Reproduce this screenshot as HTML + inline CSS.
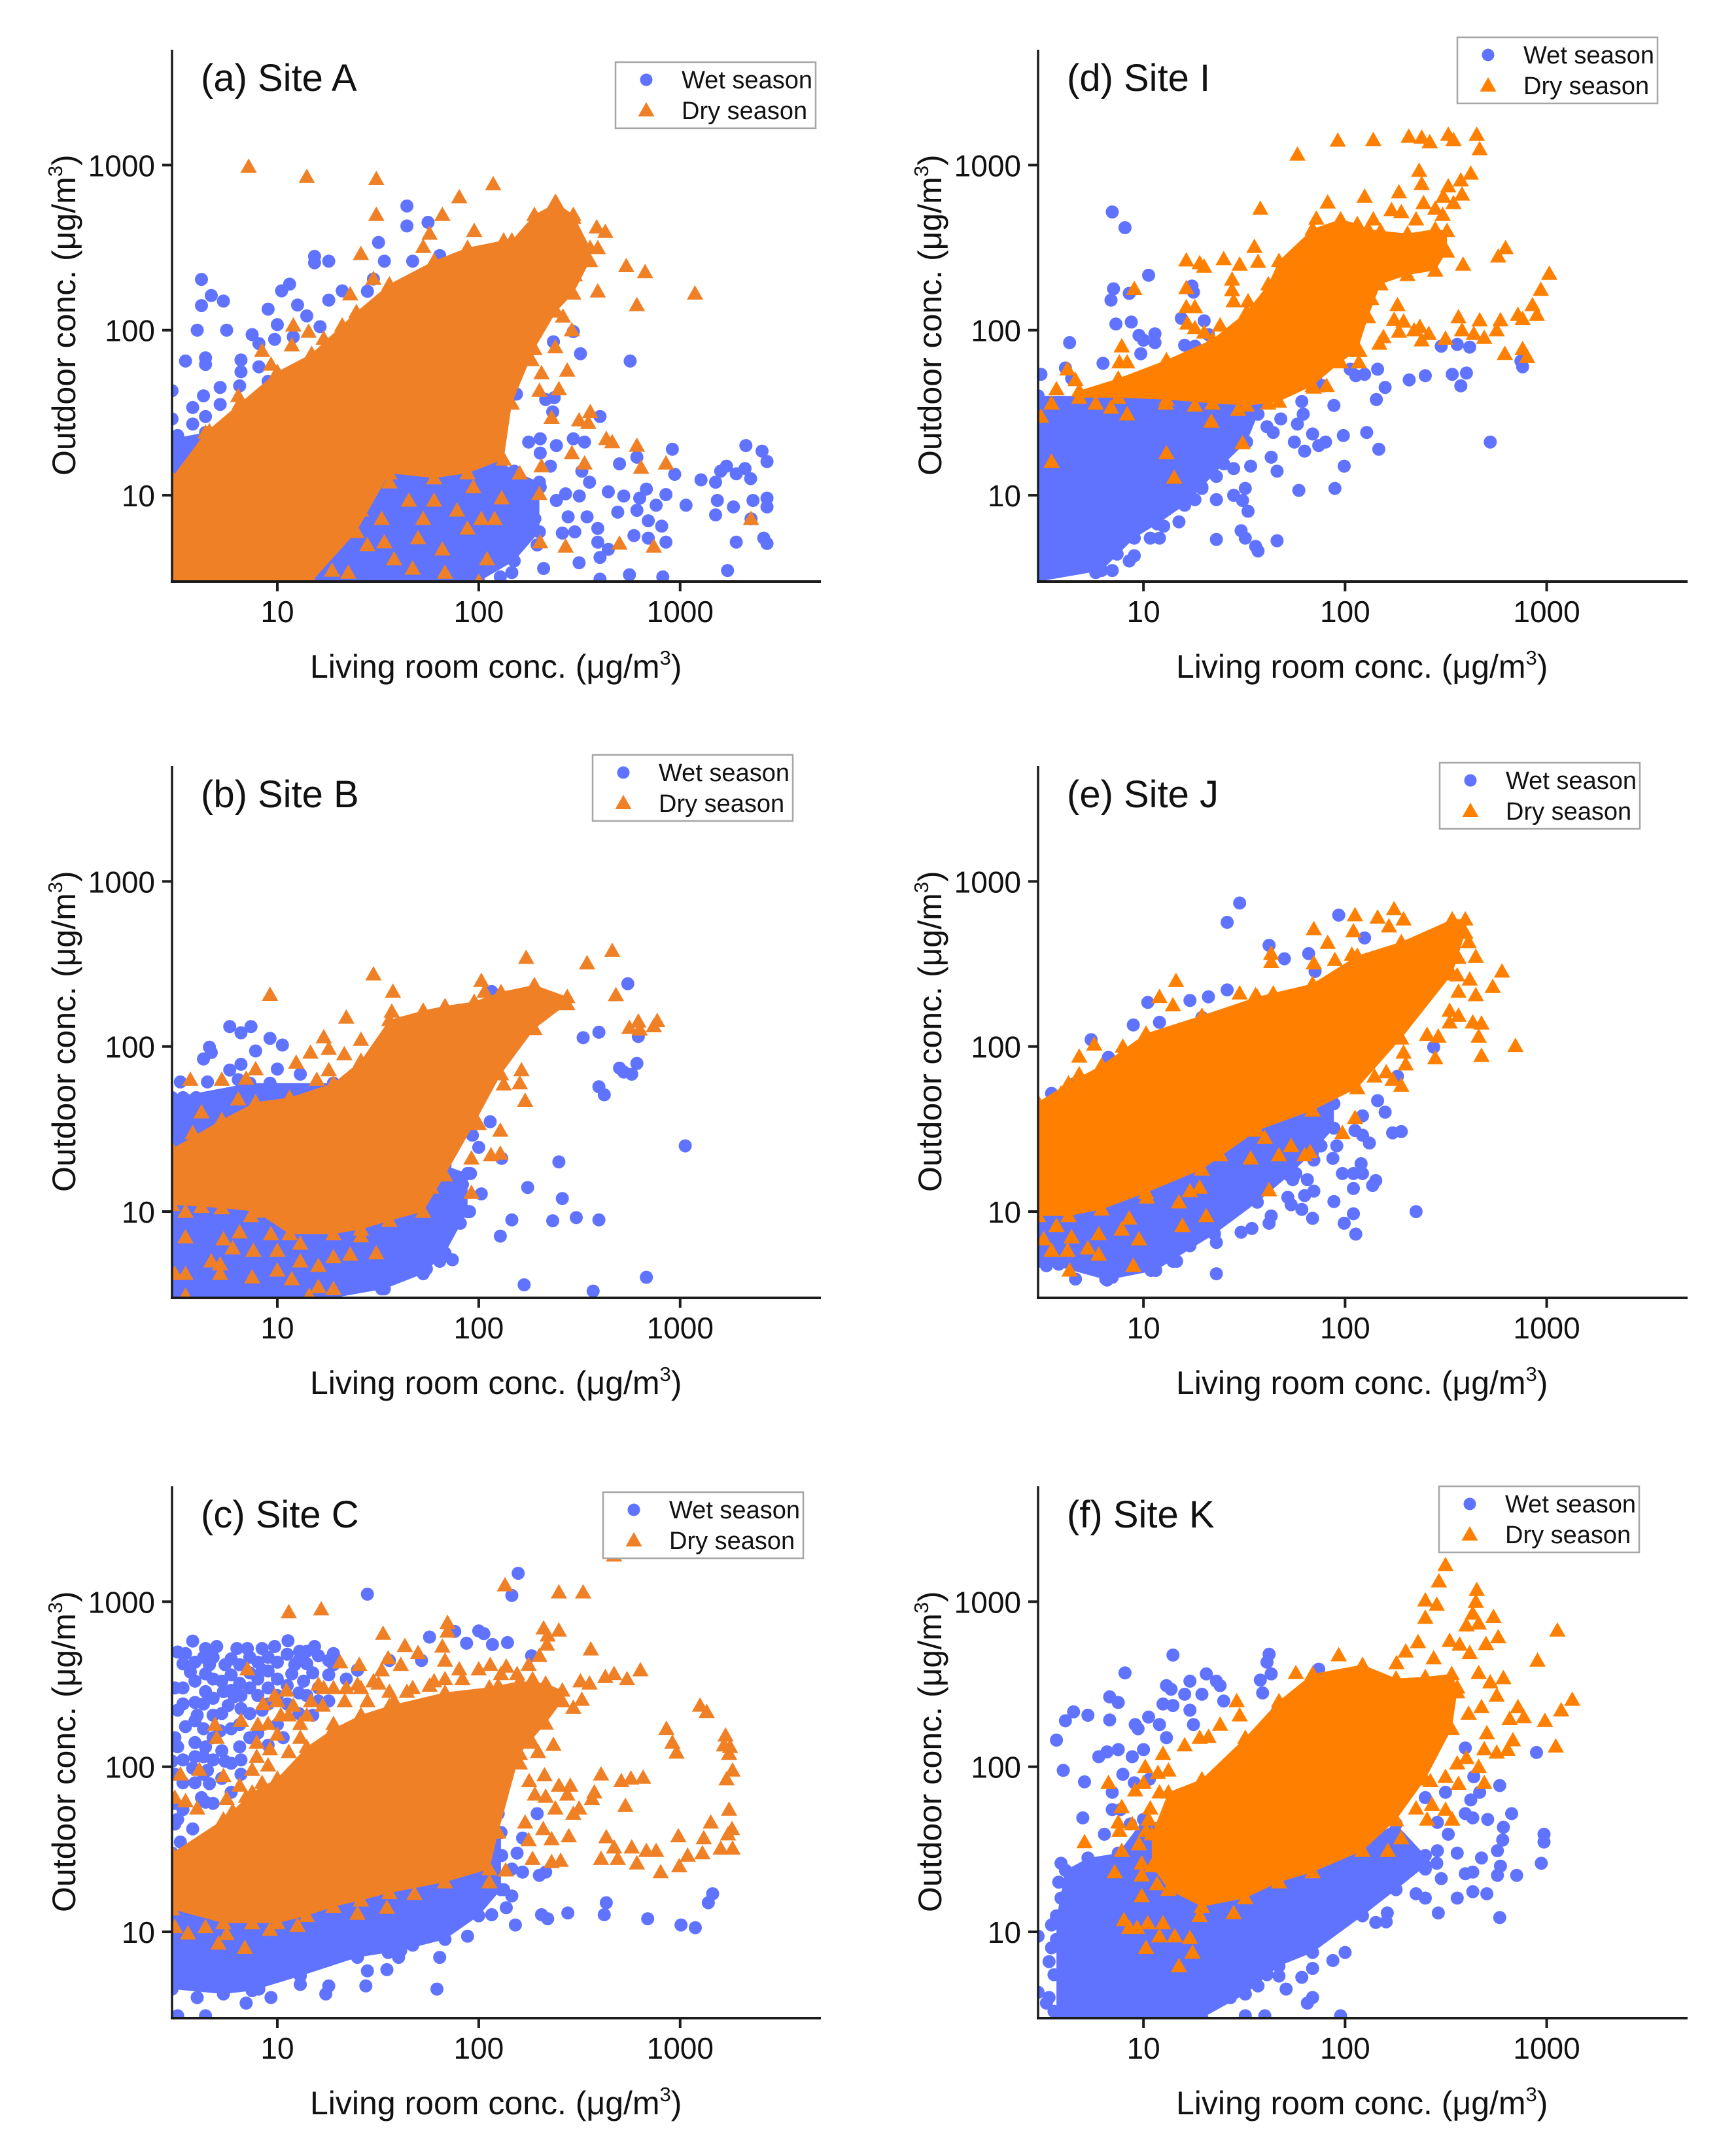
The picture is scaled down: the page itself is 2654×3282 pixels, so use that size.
<!DOCTYPE html>
<html lang="en">
<head>
<meta charset="utf-8">
<title>Outdoor vs living room concentration, six sites</title>
<style>
html,body{margin:0;padding:0;background:#fff;}
svg{display:block;font-family:"Liberation Sans",Arial,sans-serif;}
</style>
</head>
<body>
<svg id="figure" xmlns="http://www.w3.org/2000/svg" width="2654" height="3282" viewBox="0 0 2654 3282">
<rect x="0" y="0" width="2654" height="3282" fill="#ffffff"/>
</svg>
<script>
// ---- Axis ticks ----
const tickValues = [10, 100, 1000];
const tickLabels = ['10', '100', '1000'];
const axisMin = 3;
const axisMax = 5000;
const seriesNames = ['Wet season', 'Dry season'];

// ---- Site A ----
const siteAWetX = [
4.2,4.7,5.4,4.2,4,5.6,3.5,4.4,4.4,6.6,
6.6,7.5,8.1,9,10,9.7,10.5,11.5,12.6,14,
16.3,18,21,15.3,15.3,18,31.8,34,30,28,
47,44,44,56,64,565,320,295,235,154,
215,237,233,400,177,202,243,295,335,202,
227,325,355,500,610,915,940,2120,2550,2700,
1700,2100,1900,1590,2240,1500,1270,2700,2300,2700,
1530,1500,1840,1070,2250,2600,2700,1900,1720,820,
560,400,315,400,440,390,590,695,850,810,
440,525,630,680,850,760,610,695,490,390,
300,260,278,345,243,316,270,202,190,195,
210,146,128,165,152,128,142,3.8,3.8,4.4,
3.2,4.3,5.2,5.2,6.5,3,3,8.1,9,12];
const siteAWetY = [
203,162,150,141,100,100,65,68,62,66,
56,94,83,134,108,88,173,190,142,122,
105,152,173,280,256,262,340,262,204,172,
262,565,428,450,283,65,72,98,85,41,
38,39,32,30,21,22,20,22,21,18,
15,14,12,15.5,17,19,13.4,20,18.5,16,
15,14.5,13.5,14,12.6,12,12.4,9.6,9.3,8.5,
9.3,7.6,8.5,8.7,7.2,5.5,5.1,5.2,3.5,3.2,
3.3,3.1,3.9,4.2,4.7,5.2,5.7,5.5,5.2,6.5,
10.5,9.9,9.6,10.9,10.1,8.7,8.1,7,7.9,6.3,
6,5.9,7.4,7.4,9.3,9.9,10.2,11.2,7.2,5,
3.6,3.4,3.2,8.7,6.3,4.9,8.7,34,27,30,
23,40,45,35.5,46,43,29,60,49,91];
const siteADryX = [
7.2,14,31,118,80,31,66,95,57,53,
26,30,23,12,14.3,17,21,8.4,11.8,9.3,
6.4,4.6,240,295,385,425,390,540,670,1185,
390,610,300,285,262,290,240,177,183,205,
275,200,250,230,315,358,350,430,460,610,
290,335,850,640,205,160,2250,200,130,740,
500,270,202,110,120,22,28,33,38,47,
53,66,68,78,88,100,103,45,60,26,
34,18.7,22.5,50,36,94];
const siteADryY = [
980,850,825,767,640,500,500,400,385,320,
290,205,165,107,98,89,107,75,81,62,
40,24.5,600,480,420,395,315,245,225,167,
172,142,215,172,121,100,79,82,66,55,
57,43,44,29.5,28.5,32,27.5,22,21,20,
18,15.6,15.6,14.7,15,13.6,7.2,10.2,9.6,4.9,
5.1,4.9,5.2,4.1,7.2,6.3,5,7.2,4.1,3.6,
7.2,4.7,3.4,8.1,6.3,3,7.2,9.3,9.3,8.1,
5.2,3.5,3.4,5.5,12,11.2];
const siteAWetBandX = [3,4.4,10,30,60,100,150,200];
const siteAWetBandLow = [3,3,3,3,3,3,4,6];
const siteAWetBandHigh = [22,24,30,30,20,20,14,12];
const siteADryBandX = [3,4.4,6.5,10,14.8,24.7,36,60,88,133,146,189,243,295,357];
const siteADryBandLow = [3,3,3,3,3,6,13.6,12.7,13.6,16.5,36,77,130,167,263];
const siteADryBandHigh = [12.8,24,36,56,72,129,190,263,316,350,350,500,590,500,316];

// ---- Site B ----
const siteBWetX = [
5.8,6.6,7.4,9.2,10.6,7.8,4.6,4.7,4.3,6.6,
5.8,10,3.3,4.5,6.4,9.2,13,3.95,3.4,116,
550,330,395,620,500,525,610,575,395,420,
114,93,100,130,250,1060,175,260,103,90,
81,146,233,305,395,128,74,64,55,60,
43,33,168,370,680,68,58,68,48,43,
36,25,30,28,75,83,91,68,64];
const siteBWetY = [
132,121,132,112,102,94,99,92,84,78,
72,73,61,61,63,60,68,49,49,215,
240,113,122,115,74,70,79,68,57,51,
35,29,24.5,21,20,25,14,12,12.8,10,
8.5,8.9,8.8,9.2,8.9,7.1,5.1,5,4.5,6.3,
4.2,3.4,3.6,3.3,4,8.8,9.4,10,7,6,
4.4,3.9,4.1,4.7,15.6,14.6,17,16,13.8];
const siteBDryX = [
9.2,30,172,345,460,103,37.5,107,480,560,
620,770,630,740,22,37,17,26,18,21.5,
14.6,12.4,7.8,18,15.7,5.3,3.7,7,6.4,4.2,
3.8,163,170,160,133,100,128,115,128,92,
92,58,3.1,3.8,3.5,4.2,5,6,6.9,7.4,
5.4,6,3.5,6.5,7.6,4.7,5.2,5.2,3.1,3.5,
7.5,10,13,16,11.8,16,19,19,23,31,
26,3.5,14.4,9.3,10,13,9.3,4.2];
const siteBDryY = [
206,274,345,320,380,250,215,215,205,130,
142,143,127,133,150,163,114,110,97,90,
92,80,73,72,63,63,63,64,48,40,
30,72,47,60,59,34,31,22,22.5,21,
13,14,13.7,13,10,10.7,13.7,14.7,12,9.4,
6.8,6,7,7.5,5.8,5,4.8,4.2,4.2,4.2,
4,4.4,5,4.7,3.9,3.5,3.4,5.3,5.5,5.6,
7.1,3.1,3.1,7.3,5.8,6.4,10.7,16.6];
const siteBWetBandX = [3,7.3,19,34,53,68,88];
const siteBWetBandLow = [3,3,3,3.4,4.2,5.6,10];
const siteBWetBandHigh = [49,60,60,31,17,19,17];
const siteBDryBandX = [3,5.3,7.8,11.5,19,26,36,53,68,95,129,189,275];
const siteBDryBandLow = [11,10.5,10,7.3,7.3,7.8,8.8,10,16.6,34,68,128,181];
const siteBDryBandHigh = [24,36,46,49,60,82,145,165,176,187,214,236,200];

// ---- Site C ----
const siteCWetX = [
3.8,3.2,3.5,4.4,5,6.3,7.1,8.4,9.7,11.3,
15.3,19,12.9,4.6,5.5,3.7,4.4,6.5,8.4,12.2,
11.8,13.5,15,19,6.5,5.4,4.4,3.9,6.1,3.2,
4,3.5,4.8,5.7,3.9,3.2,3,4.4,5.2,6.5,
3.8,4.5,5.5,4.6,4.2,3.8,3.2,3.3,4.4,6.5,
10,8.4,10.7,15,18,25,28,157,146,76,
100,106,57,87,117,139,183,52,36,195,
125,165,155,130,146,165,200,215,133,146,
137,116,205,220,277,152,430,420,690,1010,
1190,1380,1450,88,64,62,64,47,35.5,40,
35,28,27.5,18,17.4,13,9.3,8.1,7,4,
3.2,4.4,
3.1,3.1,3.1,3.1,3.1,3.4,3.4,3.4,3.4,3.4,
3.4,3.9,3.9,3.9,3.9,3.9,4.3,4.3,4.3,4.3,
4.3,4.8,4.8,4.8,4.8,4.8,4.8,5.3,5.3,5.3,
5.3,5.9,5.9,5.9,5.9,5.9,5.9,6.6,6.6,6.6,
6.6,7.3,7.3,7.3,7.3,7.3,8,8,8,8,
9,9,9,9,9,10,10,10,11.2,11.2,
11.2,12.8,12.8,12.8,14,14,14,16,16,16,
18,18,22];
const siteCWetY = [
577,495,485,520,535,520,520,520,535,580,
535,485,500,415,415,375,365,415,385,415,
365,330,370,415,320,285,285,245,265,220,
205,175,205,235,140,132,108,132,165,180,
98,95,108,79,65,42,48,35,61,132,
180,220,150,205,250,385,1110,1485,1090,660,
665,640,610,560,550,565,470,440,440,52,
52,37,30,29,24,23,22,23,18,16.5,
14,12.7,12.7,12,13,11,15,12.7,12,11,
10.6,15,17,9.4,9.7,4.5,7,8.3,7.5,7,
5.9,5.8,4.7,4.7,4.2,4.8,4,4.5,3.7,4,
3.1,3.1,
150,90,60,45,300,300,240,110,80,55,
420,430,330,190,115,80,240,170,115,90,
460,460,340,260,150,110,60,330,210,125,
85,450,360,290,170,105,70,270,225,110,
90,460,370,300,210,150,430,340,270,160,
460,380,300,240,135,430,340,270,480,310,
240,440,280,210,500,420,270,470,300,250,
440,360,340];
const siteCDryX = [
470,135,250,330,11.4,16.5,70,70,210,250,
220,33.5,43,66,50,218,360,35.5,41,20.5,
25.5,7.1,68,80,114,137,177,200,635,545,
470,425,355,320,325,295,1255,1355,855,915,
960,1680,1650,1770,1750,1820,1700,655,570,510,
405,535,375,365,315,295,285,250,275,240,
215,212,178,190,235,185,197,160,155,1750,
1420,1810,1730,1310,980,1820,1590,1290,1090,990,
800,760,680,575,610,470,490,430,405,280,
230,255,230,185,209,177,170,3.3,3.1,3.5,
4,4.1,4.9,5,5.4,5.6,5.4,6.6,7.9,7.9,
9.2,9.7,8.5,10.4,6.5,8.4,13,16,11.1,14.7,
19,28,36,25,44,53,60,22,3.1,3.6,
4.4,5.1,5.6,6.9,9.2,12.6,25,35,48,113,
136,11.4,13,16.8,21.6,9,10,8,11.4,9,
7.5,7,6,17,19,26,31.8,38,47,57,
68,83,100,129,155,185,33,30,14,12,
10];
const siteCDryY = [
1910,1260,1140,1140,865,900,745,660,690,670,
625,640,540,535,490,550,515,455,415,430,
415,390,440,390,415,405,415,470,385,340,
365,350,320,330,255,228,235,215,170,140,
122,155,135,132,120,95,84,86,85,82,
90,58,70,64,56,52,77,77,68,56,
66,89,82,68,136,140,123,105,147,55,
46,42,39,37,38,32,32,30,29,25,
23,31,31,32.5,26,32.5,27.7,37.5,27.7,38,
36.5,27,26.5,27.7,42,36,46,90,65,62,
56,96,180,150,88,64,48,190,140,115,
128,270,240,205,77,80,150,315,290,250,
182,250,285,315,285,230,330,300,10.7,9.8,
10.7,8.5,9.7,8,10.3,10.9,12.9,14,17,20,
23.6,205,182,235,250,182,157,180,123,102,
96,66,54,300,300,300,320,250,300,310,
340,340,390,365,365,340,385,330,205,235,
250];
const siteCWetBandX = [3,5.4,7.5,13,25,41,68,100,129];
const siteCWetBandLow = [4.5,4.2,4.4,5.4,7,7.7,9,12.5,18];
const siteCWetBandHigh = [30,30,30,30,30,30,40,40,40];
const siteCDryBandX = [3,5.4,7.5,10,14,19,26,36,68,113,125,160,215,260];
const siteCDryBandLow = [13.7,11.3,11.3,11.3,12.5,14.2,15.5,17.2,20,24,40,120,183,250];
const siteCDryBandHigh = [30,48,70,85,132,170,206,234,282,303,310,330,320,290];

// ---- Site I ----
const siteIWetX = [
7,8.1,10.6,7.1,6.9,8.5,17.4,17.7,7.3,8.7,
15.4,20,9.5,10,11.4,11.4,4.3,4.1,6.3,3.1,
4.4,9.7,16,18,21,300,360,415,340,400,
375,250,208,760,745,158,145,125,113,106,
78,72,88,143,128,147,98,99,89,59,
525,61,62,58,56,63,74,80,69,48,
44,41,43,46,34,28,23,32,28,23,
31,33,18,30.5,32,23,36,37,46,15,
12.6,12,10.8,9,8.5,7.4,7,5.8,5.3,19.5];
const siteIWetY = [
520,418,215,178,152,167,185,170,109,112,
118,114,93,87,95,84,84,59,63,54,
51,72,81,80,94,80,82,79,54,55,
46,53,50,60,65,45,58,54,53,58,
46,49,35,38,24,19,23,15,11,10.7,
21,37,31,27,21,18.5,20,21,23.5,29,
24,26,17,14,15,14.5,13,11,10,9.4,
9.3,8,9.4,6.1,5.5,5.4,4.9,4.6,5.3,6.9,
6.5,5.5,5.5,4.3,4,4.4,3.5,3.4,4.4,11];
const siteIDryX = [
92,138,207,240,263,325,345,450,465,58,
233,240,420,375,325,380,185,125,82,38,
345,307,245,280,305,225,190,170,138,72,
625,575,385,1030,935,850,720,895,760,590,
565,465,490,435,365,380,315,260,235,220,
185,195,175,240,148,155,182,135,620,760,
800,118,117,16.3,19,20,25,30,35.5,37,
27.5,27.5,28,33,16.3,16.3,18,16.5,18,20,
24,9,7.8,8.3,7.6,4.2,4.6,3.7,3.5,3.1,
3.5,13,14.2,31,21.7,29.5,8.3,6.9,5.8,12.9,
18,70,81];
const siteIDryY = [
1410,1420,1490,1470,1380,1530,1420,1530,1250,1160,
925,770,890,810,745,665,685,645,595,545,
590,645,590,545,500,470,520,535,470,475,
315,280,250,220,176,142,124,124,117,115,
100,115,90,95,120,100,89,95,105,100,
98,113,116,87,83,91,142,155,72,77,
69,75,64,265,255,243,270,250,320,260,
203,175,150,150,180,138,138,110,103,97,
107,178,80,64,64,58,50,44,36,30,
16,18,12.8,20.7,28,33,31,34,36,36,
35,45,46];
const siteIWetBandX = [3,6.2,9,11.7,16,19.5,25,32.5,37];
const siteIWetBandLow = [3,3.5,5.5,6.7,8.7,11.2,15.5,21,31];
const siteIWetBandHigh = [40,40,40,40,40,40,40,38,36];
const siteIDryBandX = [4.8,7.5,13,22,32.5,41.6,47,69,95,115,130,150,204,280,320];
const siteIDryBandLow = [39,39,38,36,35,36,37,46,64,75,120,190,216,230,300];
const siteIDryBandHigh = [43,51,66,88,129,190,263,410,470,440,410,400,385,410,400];

// ---- Site J ----
const siteJWetX = [
30,26,93,125,42,50,66,71,26,21,
10.5,17,19.5,12,8.9,5.5,9.7,6.7,3.5,3,
4.6,275,182,145,158,122,172,190,112,122,
132,76,91,87,70,97,110,120,122,110,
142,137,57,55,65,70,63,52,54,61,
88,110,99,113,225,69,43,42,34.5,30.5,
28,23,17,23,14.6,14,11,10.9,7,6.5,
4.6,3.8,3.3,5.5,8.5];
const siteJWetY = [
740,565,625,455,410,340,365,285,220,200,
185,190,150,140,135,110,100,86,52,35,
60,99,66,47,40,38,30,30.5,31,29,
26,25,25,21,20.5,17,17,19.5,17,13.8,
15.4,14.4,17,15.6,15.6,13.3,12.5,12.2,11,10.3,
11.5,9.7,8.5,7.3,10,9.1,9.4,8.5,7.9,7.5,
10,6.5,6.2,4.2,5,5,5,4.4,4,3.9,
3.9,4.8,4.7,4.5,5];
const siteJDryX = [
175,195,112,145,165,110,70,82,43,43,
70,89,108,410,365,445,600,540,415,365,
445,360,330,365,330,430,475,460,290,255,
700,475,280,195,200,190,172,160,140,14.5,
12,14,30,36,44,5.7,4.8,7.9,4.8,3.9,
3.3,3.5,97,112,67,63,47,54,40,34,
24,42,19,17,15,20.5,15.6,8.5,9.5,8.9,
6,5.3,4.3,4.2,3.5,3.2,4.4,3.7,6,7.8,
10.4];
const siteJDryY = [
680,590,625,605,535,500,515,425,365,325,
320,335,360,430,345,350,285,230,255,215,
205,270,165,154,140,140,138,115,115,118,
101,88,85,92,78,58,63,70,66,250,
200,178,210,205,210,103,87,100,68,52,
43,34,30,37,23,22,22,25,28,21,
22,13.5,14,13.3,11.4,9.4,8.2,9.1,6.8,4.7,
5.5,6,4.4,5.8,5.8,6.8,7,8.2,7.3,7.8,
12.2];
const siteJWetBandX = [3,6.6,11.5,22.5,36.7,53,69,88];
const siteJWetBandLow = [5,3.85,4.4,7.3,11.4,16.6,22.9,32];
const siteJWetBandHigh = [40,60,80,100,80,60,50,45];
const siteJDryBandX = [3,4.25,6.2,10.3,19.5,36.7,69,115,190,340,395];
const siteJDryBandLow = [9.4,9.4,10.3,13,18,31,41,56,112,275,490];
const siteJDryBandHigh = [46,60,77,120,154,200,240,355,430,590,590];

// ---- Site K ----
const siteKWetX = [
14,8.1,42,41,43,74,38,13,13.7,17,
20.5,23,24,39,6.8,7.5,4.5,5.3,4.1,6.8,
3.7,4,5.1,5,3.9,16,19.5,25,12.5,14,
17,46,10.6,9.1,9.4,12,13,17.7,6,6.6,
7.5,8.8,10,7.9,9,10.7,7,7.7,8.6,6.4,
7,395,890,585,435,465,420,250,315,670,
610,510,395,430,325,287,970,970,605,570,
475,360,287,940,590,570,710,395,430,300,
285,430,505,360,250,225,290,585,142,162,
160,100,87,69,61,69,65,51,95,41,
47,37,32,40,32,27,32.5,250,3,3.4,
3,3.3,3.7,3.7,3.5,3.6,3.4,3.6,3.5,3.9,
3.8];
const siteKWetY = [
475,370,480,430,365,390,335,310,295,330,
365,330,310,280,265,245,215,205,190,192,
145,95,81,49,26,275,275,250,240,235,
220,215,200,180,170,180,150,180,115,123,
127,115,127,90,80,84,55,55,45,39,
70,130,122,77,87,70,63,65,70,52,
43,48,52,49,39,46,39,35,36,31,
28,30,31,26,25,22,22,22.5,23,21,
26,17.5,17,16,16,17,13,12.2,11.4,13,
11.5,7.5,6.7,6,5.3,4,3.7,4.5,3.1,5.5,
5.4,4.7,4.2,3.1,3.1,4,4.8,24,9.4,6.6,
4.3,3.7,9,12.5,8,5.5,4,3.3,11,16,
20];
const siteKDryX = [
315,292,250,285,450,445,250,430,545,400,
460,575,1130,230,330,370,200,500,180,275,
415,900,460,610,525,565,720,1340,1180,655,
770,980,475,410,505,680,1110,490,565,640,
400,460,360,315,365,490,265,270,225,315,
340,255,190,163,93,57,29,30,24,19,
21,16,12.5,10.2,13.3,11.8,6.7,10,9.1,12,
7.8,10.8,7.5,8.8,10.6,7.6,5.1,10.3,7.8,9.5,
7.2,9.8,9.8,8,8.5,9.3,10.5,12.5,12,14.3,
10.3,17.5,15,17,19,28,9.8,11.7];
const siteKDryY = [
1670,1330,1020,960,1180,1000,800,850,810,720,
740,610,670,570,580,550,500,555,425,455,
490,440,370,345,325,270,230,255,220,195,
200,190,230,210,160,145,133,128,122,127,
113,100,105,87,79,80,82,59,56,55,
48,48,37,31,475,370,250,205,180,150,
152,135,120,100,95,92,80,80,72,70,
57,56,46,45,48,41,35,41,31,34,
23,26,22,11.8,10.6,10.6,11.3,11.3,9.4,9.4,
8,7.5,6.2,9.2,12.5,13,16.5,19.5];
const siteKWetBandX = [3.7,4.1,5.3,7.5,10,19.5,32,47,69,122,179,250];
const siteKWetBandLow = [3,3,3,3,3,3,4.2,6.2,7.5,12.5,18,25];
const siteKWetBandHigh = [12,23.6,28,30,48,40,40,40,40,35,45,29];
const siteKDryBandX = [11,13.3,19.5,32,47,69,122,179,250,338,360];
const siteKDryBandLow = [25,18,14.2,16,20,23,31,47.6,84,170,283];
const siteKDryBandHigh = [39,70,84,150,250,365,415,343,350,365,303];

// ---- Panel assembly (layout kept apart from the values) ----
const panels = [
 {key:'site-a',title:'(a) Site A',x0:263,x1:1255,top:76,bottom:889,lx:941,ly:95,dry:'#EF8026',
  wx:siteAWetX,wy:siteAWetY,dx:siteADryX,dy:siteADryY,wbx:siteAWetBandX,wbl:siteAWetBandLow,wbh:siteAWetBandHigh,dbx:siteADryBandX,dbl:siteADryBandLow,dbh:siteADryBandHigh},
 {key:'site-b',title:'(b) Site B',x0:263,x1:1255,top:1171,bottom:1984,lx:906,ly:1154,dry:'#EF8026',
  wx:siteBWetX,wy:siteBWetY,dx:siteBDryX,dy:siteBDryY,wbx:siteBWetBandX,wbl:siteBWetBandLow,wbh:siteBWetBandHigh,dbx:siteBDryBandX,dbl:siteBDryBandLow,dbh:siteBDryBandHigh},
 {key:'site-c',title:'(c) Site C',x0:263,x1:1255,top:2272,bottom:3085,lx:922,ly:2281,dry:'#EF8026',
  wx:siteCWetX,wy:siteCWetY,dx:siteCDryX,dy:siteCDryY,wbx:siteCWetBandX,wbl:siteCWetBandLow,wbh:siteCWetBandHigh,dbx:siteCDryBandX,dbl:siteCDryBandLow,dbh:siteCDryBandHigh},
 {key:'site-i',title:'(d) Site I',x0:1587,x1:2580,top:76,bottom:889,lx:2228,ly:57,dry:'#FF8000',
  wx:siteIWetX,wy:siteIWetY,dx:siteIDryX,dy:siteIDryY,wbx:siteIWetBandX,wbl:siteIWetBandLow,wbh:siteIWetBandHigh,dbx:siteIDryBandX,dbl:siteIDryBandLow,dbh:siteIDryBandHigh},
 {key:'site-j',title:'(e) Site J',x0:1587,x1:2580,top:1171,bottom:1984,lx:2201,ly:1166,dry:'#FF8000',
  wx:siteJWetX,wy:siteJWetY,dx:siteJDryX,dy:siteJDryY,wbx:siteJWetBandX,wbl:siteJWetBandLow,wbh:siteJWetBandHigh,dbx:siteJDryBandX,dbl:siteJDryBandLow,dbh:siteJDryBandHigh},
 {key:'site-k',title:'(f) Site K',x0:1587,x1:2580,top:2272,bottom:3085,lx:2200,ly:2272,dry:'#FF8000',
  wx:siteKWetX,wy:siteKWetY,dx:siteKDryX,dy:siteKDryY,wbx:siteKWetBandX,wbl:siteKWetBandLow,wbh:siteKWetBandHigh,dbx:siteKDryBandX,dbl:siteKDryBandLow,dbh:siteKDryBandHigh}
];

const WET = '#5F73FF';
const AXIS = '#1c1c1c';
const NS = 'http://www.w3.org/2000/svg';
const root = document.getElementById('figure');

function make(tag, parent, attrs) {
  const el = document.createElementNS(NS, tag);
  for (const k in attrs) el.setAttribute(k, attrs[k]);
  parent.appendChild(el);
  return el;
}
function xScale(p, v) {
  const a = Math.log10(axisMin), b = Math.log10(axisMax);
  return p.x0 + (Math.log10(v) - a) / (b - a) * (p.x1 - p.x0);
}
function yScale(p, v) {
  const a = Math.log10(axisMin), b = Math.log10(axisMax);
  return p.bottom - (Math.log10(v) - a) / (b - a) * (p.bottom - p.top);
}
function circle(parent, cx, cy, r, fill) {
  return make('circle', parent, {cx: cx.toFixed(1), cy: cy.toFixed(1), r: r, fill: fill});
}
function triangle(parent, cx, cy, fill) {
  const pts = [[cx, cy - 12.5], [cx - 12.5, cy + 9.5], [cx + 12.5, cy + 9.5]];
  return make('polygon', parent, {points: pts.map(q => q[0].toFixed(1) + ',' + q[1].toFixed(1)).join(' '), fill: fill});
}
function bandPoints(p, xs, low, high) {
  const up = xs.map((v, i) => xScale(p, v).toFixed(1) + ',' + yScale(p, high[i]).toFixed(1));
  const dn = xs.map((v, i) => xScale(p, v).toFixed(1) + ',' + yScale(p, low[i]).toFixed(1)).reverse();
  return up.concat(dn).join(' ');
}

panels.forEach(function (p, idx) {
  const g = make('g', root, {});
  
  

  const clip = make('clipPath', g, {id: 'clip-' + idx});
  make('rect', clip, {x: p.x0, y: p.top - 40, width: p.x1 - p.x0 + 10, height: p.bottom - p.top + 40});

  const plot = make('g', g, {'clip-path': 'url(#clip-' + idx + ')'});
  
  

  // wet season: dense cloud, its edge marks, then single points
  const wetBand = make('polygon', plot, {points: bandPoints(p, p.wbx, p.wbl, p.wbh), fill: WET});
  
  
  p.wbx.forEach(function (v, i) {
    const a = circle(plot, xScale(p, v), yScale(p, p.wbh[i]), 10, WET);
    
    
    const b = circle(plot, xScale(p, v), yScale(p, p.wbl[i]), 10, WET);
    
    
  });
  const wn = Math.min(p.wx.length, p.wy.length);
  for (let i = 0; i < wn; i++) {
    const c = circle(plot, xScale(p, p.wx[i]), yScale(p, p.wy[i]), 10, WET);
    
    
  }

  // dry season: dense cloud, its edge marks, then single points
  const dryBand = make('polygon', plot, {points: bandPoints(p, p.dbx, p.dbl, p.dbh), fill: p.dry});
  
  
  p.dbx.forEach(function (v, i) {
    const a = triangle(plot, xScale(p, v), yScale(p, p.dbh[i]), p.dry);
    
    
    const b = triangle(plot, xScale(p, v), yScale(p, p.dbl[i]), p.dry);
    
    
  });
  const dn = Math.min(p.dx.length, p.dy.length);
  for (let i = 0; i < dn; i++) {
    const t = triangle(plot, xScale(p, p.dx[i]), yScale(p, p.dy[i]), p.dry);
    
    
  }

  // axes
  const yAxis = make('line', g, {x1: p.x0, x2: p.x0, y1: p.top, y2: p.bottom, stroke: AXIS, 'stroke-width': 3.5});
  
  
  const xAxis = make('line', g, {x1: p.x0 - 2, x2: p.x1, y1: p.bottom, y2: p.bottom, stroke: AXIS, 'stroke-width': 4});
  
  

  tickValues.forEach(function (v, i) {
    const tx = xScale(p, v), ty = yScale(p, v);
    const xt = make('line', g, {x1: tx, x2: tx, y1: p.bottom, y2: p.bottom + 15, stroke: AXIS, 'stroke-width': 4});
    
    
    const xl = make('text', g, {x: tx, y: p.bottom + 62, 'text-anchor': 'middle', 'font-size': 46, fill: '#111'});
    xl.textContent = tickLabels[i];
    
    
    const yt = make('line', g, {x1: p.x0 - 15, x2: p.x0, y1: ty, y2: ty, stroke: AXIS, 'stroke-width': 4});
    
    
    const yl = make('text', g, {x: p.x0 - 26, y: ty + 17, 'text-anchor': 'end', 'font-size': 46, fill: '#111'});
    yl.textContent = tickLabels[i];
    
    
  });

  // axis titles
  const xt = make('text', g, {x: p.x0 + 211, y: p.bottom + 147, 'font-size': 50, fill: '#111'});
  
  
  make('tspan', xt, {}).textContent = 'Living room conc. (\u03BCg/m';
  make('tspan', xt, {dy: -20, 'font-size': 31}).textContent = '3';
  make('tspan', xt, {dy: 20}).textContent = ')';

  const yBase = p.x0 - 148, yStart = p.bottom - 162;
  const yTitle = make('text', g, {x: yBase, y: yStart, 'font-size': 50, fill: '#111', transform: 'rotate(-90 ' + yBase + ' ' + yStart + ')'});
  
  
  make('tspan', yTitle, {}).textContent = 'Outdoor conc. (\u03BCg/m';
  make('tspan', yTitle, {dy: -20, 'font-size': 31}).textContent = '3';
  make('tspan', yTitle, {dy: 20}).textContent = ')';

  // panel title
  const title = make('text', g, {x: p.x0 + 44, y: p.top + 63, 'font-size': 58, fill: '#111'});
  title.textContent = p.title;
  
  

  // legend
  const lg = make('g', g, {});
  
  
  const box = make('rect', lg, {x: p.lx, y: p.ly, width: 306, height: 101, fill: '#fff', stroke: '#a6a6a6', 'stroke-width': 2.5});
  
  
  const lc = circle(lg, p.lx + 47, p.ly + 27, 9.5, WET);
  
  
  const lt = triangle(lg, p.lx + 47, p.ly + 73.5, p.dry);
  
  
  const wt = make('text', lg, {x: p.lx + 101, y: p.ly + 40, 'font-size': 38, fill: '#111'});
  wt.textContent = seriesNames[0];
  
  
  const dt = make('text', lg, {x: p.lx + 101, y: p.ly + 87, 'font-size': 38, fill: '#111'});
  dt.textContent = seriesNames[1];
  
  
});
</script>
</body>
</html>
